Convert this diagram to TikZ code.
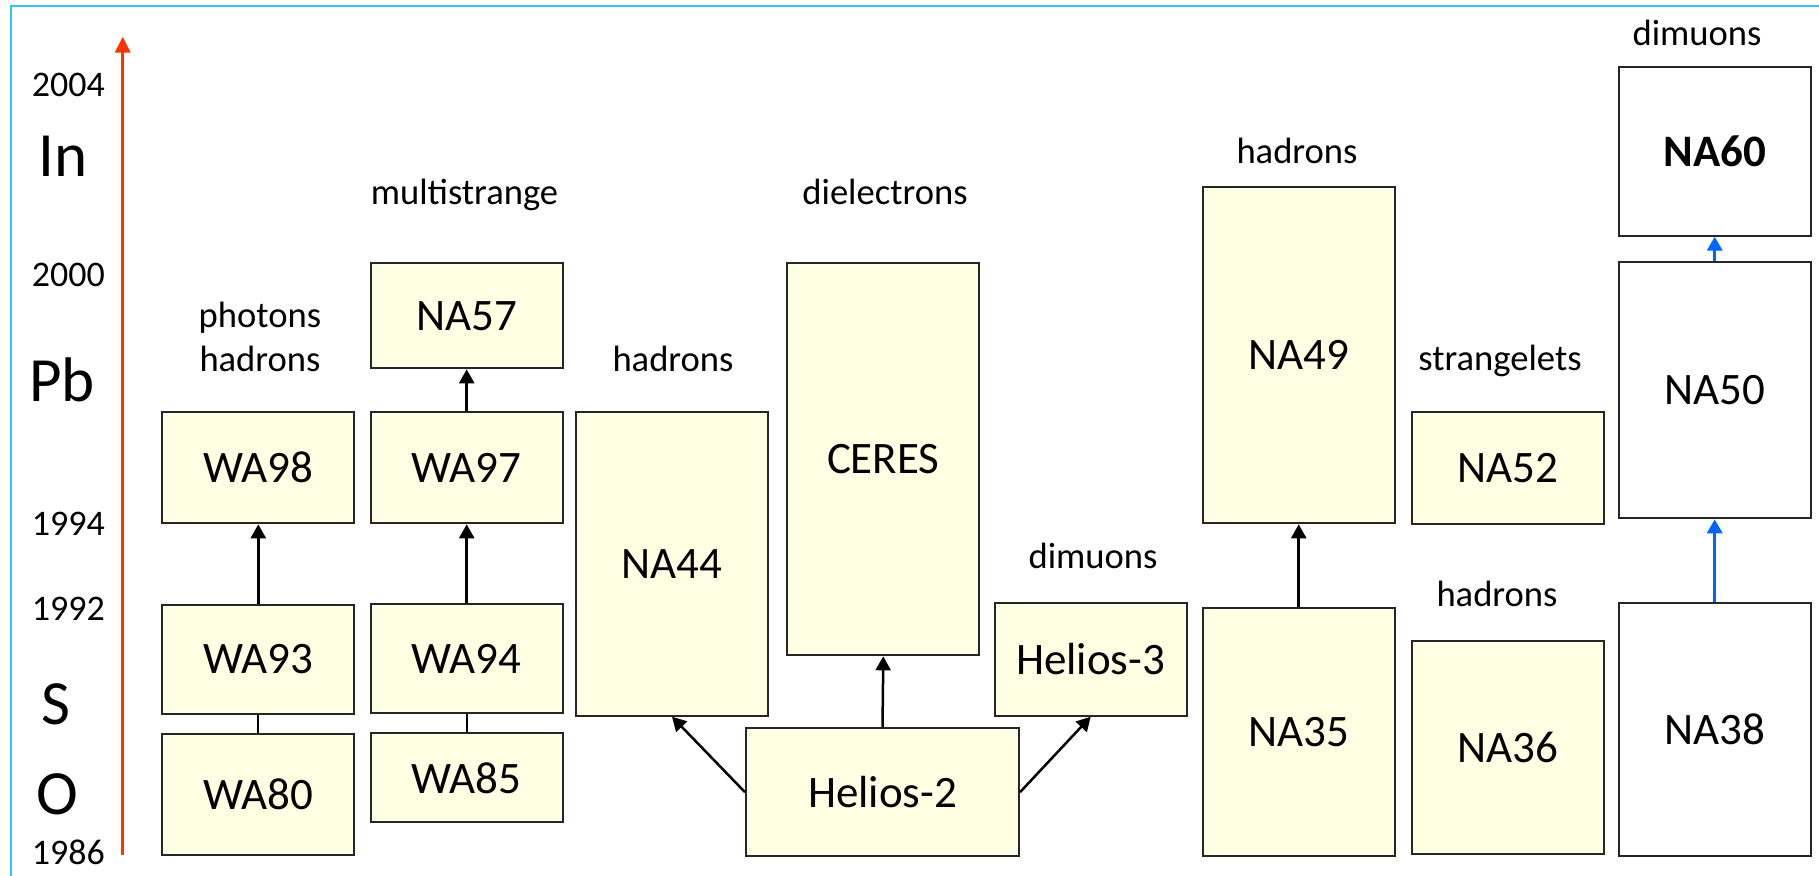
\documentclass[tikz,border=0pt]{standalone}
\usepackage{fontspec}
\setmainfont{Carlito}
\usetikzlibrary{arrows.meta,positioning}

\definecolor{boxfill}{RGB}{255,255,228}
\definecolor{timeline}{RGB}{255,51,0}
\definecolor{muonline}{RGB}{0,102,255}
\definecolor{frameline}{RGB}{40,200,255}

\begin{document}
\begin{tikzpicture}[
	x=1pt, y=-1pt,
		expt/.style={
			rectangle,
			draw=black!85,
			line width=2pt,
			fill=boxfill,
			minimum width=192pt,
			inner sep=0pt,
			font=\fontsize{45}{54}\selectfont
		},
		exptwhite/.style={
			expt,
			fill=white
		},
		physics/.style={
			inner sep=0pt,
			align=center,
			font=\fontsize{36.6}{44.7}\selectfont
		},
		year/.style={
			anchor=base east,
			inner sep=0pt,
			font=\fontsize{36}{43}\selectfont
		},
		beam/.style={
			anchor=base,
			inner sep=0pt,
			font=\fontsize{63}{75}\selectfont
		},
		link/.style={
			line width=2.2pt
		},
		arrow/.style={
			-{Triangle[length=14pt,width=15pt]},
			line width=2.5pt
		},
		bluearrow/.style={
			-{Triangle[length=14pt,width=15pt]},
			line width=3.5pt,
			draw=muonline,
			fill=muonline
		},
		timearrow/.style={
			-{Triangle[length=16pt,width=15pt]},
			line width=3.5pt,
			draw=timeline,
			fill=timeline
		}
	]
	\useasboundingbox (0,0) rectangle (1819,875);
	% Frame
	\draw[frameline, line width=2pt] (10.7,880) -- (10.7,6) -- (1825,6);

	% Time axis
	\coordinate (t_start) at (122.7,855);
	\coordinate (t_end) at (122.7,36.7);
	\draw[timearrow] (t_start) -- (t_end);
	\node[year] (y2004) at (105,96.7) {2004};
	\node[year] (y2000) at (105,286.7) {2000};
	\node[year] (y1994) at (105,535) {1994};
	\node[year] (y1992) at (105,620.5) {1992};
	\node[year] (y1986) at (105,864.5) {1986};
	% Beams
	\node[beam] (ion_in) at (63,176.7) {In};
	\node[beam] (ion_pb) at (62,401) {Pb};
	\node[beam] (ion_s) at (56,724) {S};
	\node[beam] (ion_o) at (57.5,814.5) {O};

	% Photon / hadron column
	\node[expt, minimum height=120.7pt] (wa80) at (258.3,794.7) {WA80};
	\node[expt, minimum height=109pt] (wa93) at (258.3,659) {WA93};
	\node[expt, minimum height=111.6pt] (wa98) at (258.3,467.5) {WA98};
	\node[physics] (lab_wa98) at (260,337) {photons\\hadrons};
	% Multistrange column
	\node[expt, minimum height=89pt] (wa85) at (466.7,777.8) {WA85};
	\node[expt, minimum height=108.4pt] (wa94) at (466.7,658.5) {WA94};
	\node[expt, minimum height=111.6pt] (wa97) at (466.7,467.5) {WA97};
	\node[expt, minimum height=105pt] (na57) at (466.7,315.8) {NA57};
	\node[physics, anchor=base] (lab_na57) at (464.5,204) {multistrange};
	% Helios family
	\node[expt, minimum height=304pt] (na44) at (672,563.7) {NA44};
	\node[physics, anchor=base] (lab_na44) at (673,371.7) {hadrons};
	\node[expt, minimum height=392pt] (ceres) at (883.3,459.3) {CERES};
	\node[physics, anchor=base] (lab_ceres) at (885,204) {dielectrons};
	\node[expt, minimum width=273pt, minimum height=127.7pt] (helios2) at (882.5,792.2) {Helios-2};
	\node[expt, minimum height=112.4pt] (helios3) at (1090.7,659.5) {Helios-3};
	\node[physics, anchor=base] (lab_helios3) at (1093,568.5) {dimuons};
	% Hadron columns
	\node[expt, minimum height=336pt] (na49) at (1298.7,355.3) {NA49};
	\node[physics, anchor=base] (lab_na49) at (1297,163.3) {hadrons};
	\node[expt, minimum height=247.7pt] (na35) at (1298.7,732.2) {NA35};
	\node[expt, minimum height=112.3pt] (na52) at (1507.8,467.8) {NA52};
	\node[physics, anchor=base] (lab_na52) at (1500,370) {strangelets};
	\node[expt, minimum height=213.6pt] (na36) at (1507.8,747.5) {NA36};
	\node[physics, anchor=base] (lab_na36) at (1497,606) {hadrons};
	% Dimuon column
	\node[exptwhite, minimum height=252.7pt] (na38) at (1714.7,729.7) {NA38};
	\node[exptwhite, minimum height=256pt] (na50) at (1714.7,390.3) {NA50};
	\node[exptwhite, minimum height=169pt] (na60) at (1714.7,151.2) {\textbf{NA60}};
	\node[physics, anchor=base] (lab_na60) at (1697,45.7) {dimuons};

	% Connections
	\draw[link] (wa80) -- (wa93);
	\draw[arrow] (wa93) -- (wa98);
	\draw[link] (wa85) -- (wa94);
	\draw[arrow] (wa94) -- (wa97);
	\draw[arrow] (wa97) -- (na57);
	\draw[arrow] (helios2.west) -- (na44.south);
	\draw[arrow] (helios2.north) -- (ceres.south);
	\draw[arrow] (helios2.east) -- (helios3.south);
	\draw[arrow] (na35) -- (na49);
	\draw[bluearrow] (na38) -- (na50);
	\draw[bluearrow] (na50) -- (na60);
\end{tikzpicture}
\end{document}
